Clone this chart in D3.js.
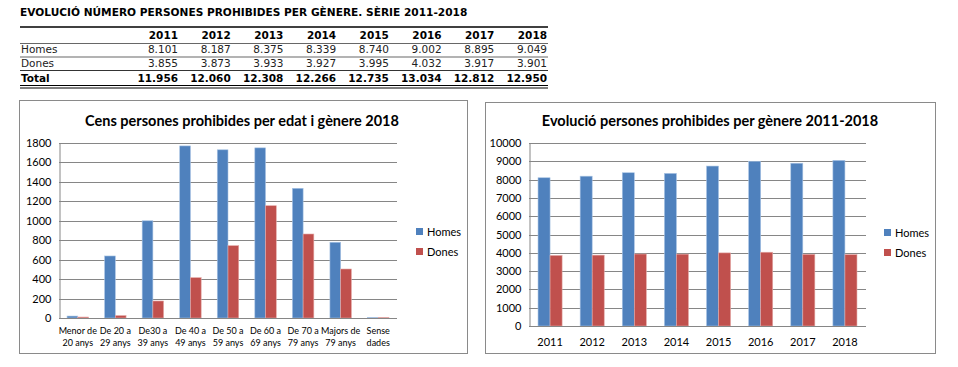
<!DOCTYPE html>
<html>
<head>
<meta charset="utf-8">
<script src="https://cdn.jsdelivr.net/npm/d3@7"></script>
<style>
  html, body { margin: 0; padding: 0; background: #fff; }
  svg { display: block; }
</style>
</head>
<body>
<svg id="chart" width="958" height="367"></svg>
<script>
// dades
var years = ['2011', '2012', '2013', '2014', '2015', '2016', '2017', '2018'];
var homesYear = [8101, 8187, 8375, 8339, 8740, 9002, 8895, 9049];
var donesYear = [3855, 3873, 3933, 3927, 3995, 4032, 3917, 3901];
var totalYear = [11956, 12060, 12308, 12266, 12735, 13034, 12812, 12950];

var ageGroups = ['Menor de 20 anys', 'De 20 a 29 anys', 'De30 a 39 anys', 'De 40 a 49 anys',
  'De 50 a 59 anys', 'De 60 a 69 anys', 'De 70 a 79 anys', 'Majors de 79 anys', 'Sense dades'];
var ageLines = [['Menor de', '20 anys'], ['De 20 a', '29 anys'], ['De30 a', '39 anys'], ['De 40 a', '49 anys'],
  ['De 50 a', '59 anys'], ['De 60 a', '69 anys'], ['De 70 a', '79 anys'], ['Majors de', '79 anys'], ['Sense', 'dades']];
var homesAge = [20, 638, 1000, 1770, 1730, 1750, 1334, 779, 5];
var donesAge = [10, 25, 175, 415, 744, 1155, 864, 504, 5];

var series = ['Homes', 'Dones'];
var colors = {Homes: '#4F81BD', Dones: '#C0504D'};
var yTicksAge = [0, 200, 400, 600, 800, 1000, 1200, 1400, 1600, 1800];
var yTicksYear = [0, 1000, 2000, 3000, 4000, 5000, 6000, 7000, 8000, 9000, 10000];

var svg = d3.select('#chart');
var tableFont = 'DejaVu Sans, Verdana, sans-serif';
var chartFont = 'Lato, Open Sans, sans-serif';

var fmt = d3.formatLocale({decimal: ',', thousands: '.', grouping: [3], currency: ['', '']}).format(',d');

// ---- taula ----
svg.append('text')
  .attr('x', 20).attr('y', 16)
  .attr('font-family', tableFont).attr('font-weight', 'bold').attr('font-size', 10.6)
  .text('EVOLUCIÓ NÚMERO PERSONES PROHIBIDES PER GÈNERE. SÈRIE 2011-2018');

var colX = d3.scalePoint().domain(years).range([178, 547]);
var tx0 = 20, tx1 = 548;

function hline(y, w) {
  svg.append('line').attr('x1', tx0).attr('x2', tx1).attr('y1', y).attr('y2', y)
    .attr('stroke', '#000').attr('stroke-width', w);
}
hline(27, 1.6);
hline(43.5, 0.6);
hline(57, 0.6);
hline(70.5, 0.8);
hline(85.5, 1);
hline(88, 1);

var rows = [
  {label: '', vals: years, bold: true, y: 39},
  {label: 'Homes', vals: homesYear.map(fmt), bold: false, y: 53},
  {label: 'Dones', vals: donesYear.map(fmt), bold: false, y: 67},
  {label: 'Total', vals: totalYear.map(fmt), bold: true, y: 81.5}
];
rows.forEach(function(r) {
  svg.append('text').attr('x', 21).attr('y', r.y)
    .attr('font-family', tableFont).attr('font-size', 10.5)
    .attr('font-weight', r.bold ? 'bold' : 'normal')
    .attr('fill', r.bold ? '#000' : '#222')
    .text(r.label);
  svg.selectAll(null).data(r.vals).enter().append('text')
    .attr('x', function(d, i) { return colX(years[i]); })
    .attr('y', r.y)
    .attr('text-anchor', 'end')
    .attr('font-family', tableFont).attr('font-size', 10.5)
    .attr('font-weight', r.bold ? 'bold' : 'normal')
    .attr('fill', r.bold ? '#000' : '#222')
    .text(function(d) { return d; });
});

// ---- grafic de barres ----
function barChart(o) {
  var g = svg.append('g');
  g.append('rect').attr('x', o.box[0] + 0.5).attr('y', o.box[1] + 0.5)
    .attr('width', o.box[2] - o.box[0]).attr('height', o.box[3] - o.box[1])
    .attr('fill', '#fff').attr('stroke', '#8a8a8a').attr('stroke-width', 1);

  g.append('text').attr('x', o.titleX).attr('y', o.titleY)
    .attr('text-anchor', 'middle')
    .attr('font-family', chartFont).attr('font-weight', 'bold').attr('font-size', 14.5)
    .attr('fill', '#000')
    .text(o.title);

  var x = d3.scaleBand().domain(o.cats).range([o.left, o.right]).padding(0);
  var step = x.step();
  var x1 = d3.scaleBand().domain(series)
    .range([step * 0.75 / 3.5, step * 2.75 / 3.5]).padding(0);
  var y = d3.scaleLinear().domain([0, o.max]).range([o.bottom, o.top]);

  // graella
  g.append('g').selectAll('line').data(o.ticks).enter().append('line')
    .attr('x1', o.left).attr('x2', o.right)
    .attr('y1', function(d) { return Math.round(y(d)) + 0.5; })
    .attr('y2', function(d) { return Math.round(y(d)) + 0.5; })
    .attr('stroke', '#868686').attr('stroke-width', 1);

  var yAxis = g.append('g')
    .attr('transform', 'translate(' + (o.left + 0.5) + ',0)')
    .call(d3.axisLeft(y).tickValues(o.ticks).tickSize(0).tickPadding(8).tickFormat(d3.format('d')));
  yAxis.select('.domain').attr('stroke', '#868686');
  yAxis.selectAll('text').attr('font-family', chartFont).attr('font-size', 11).attr('fill', '#000');

  var groups = g.append('g').selectAll('g').data(o.cats).enter().append('g')
    .attr('transform', function(d) { return 'translate(' + x(d) + ',0)'; });
  groups.selectAll('rect').data(function(d, i) {
      return series.map(function(s) { return {s: s, v: o.data[s][i]}; });
    }).enter().append('rect')
    .attr('x', function(d) { return x1(d.s); })
    .attr('width', x1.bandwidth())
    .attr('y', function(d) { return y(d.v); })
    .attr('height', function(d) { return o.bottom - y(d.v); })
    .attr('fill', function(d) { return colors[d.s]; })
    .attr('stroke', function(d) { return d.s === 'Homes' ? '#a9c4e4' : '#e4a9a7'; })
    .attr('stroke-width', 0.6);

  // eix x
  g.append('line').attr('x1', o.left).attr('x2', o.right)
    .attr('y1', o.bottom + 0.5).attr('y2', o.bottom + 0.5)
    .attr('stroke', '#868686');

  var lab = g.append('g').selectAll('text').data(o.cats).enter().append('text')
    .attr('x', function(d) { return x(d) + step / 2; })
    .attr('y', o.labelY)
    .attr('text-anchor', 'middle')
    .attr('font-family', chartFont).attr('font-size', o.labelSize).attr('fill', '#000');
  lab.each(function(d, i) {
    var lines = o.lines ? o.lines[i] : [d];
    var t = d3.select(this);
    lines.forEach(function(l, k) {
      t.append('tspan').attr('x', x(d) + step / 2).attr('dy', k === 0 ? 0 : 11.5).text(l);
    });
  });

  // llegenda
  series.forEach(function(s, k) {
    g.append('rect').attr('x', o.legX).attr('y', o.legY + k * 20 - 4)
      .attr('width', 7).attr('height', 7).attr('fill', colors[s]);
    g.append('text').attr('x', o.legX + 11).attr('y', o.legY + k * 20 + 4)
      .attr('font-family', chartFont).attr('font-size', 11).attr('fill', '#000')
      .text(s);
  });
}

barChart({
  box: [19, 100, 467, 353],
  title: 'Cens persones prohibides per edat i gènere 2018',
  titleX: 242, titleY: 126,
  cats: ageGroups, lines: ageLines,
  data: {Homes: homesAge, Dones: donesAge},
  max: 1800, ticks: yTicksAge,
  left: 59, right: 397, top: 143, bottom: 318,
  labelY: 334, labelSize: 9,
  legX: 416, legY: 232
});

barChart({
  box: [485, 102, 935, 353],
  title: 'Evolució persones prohibides per gènere 2011-2018',
  titleX: 710, titleY: 126,
  cats: years,
  data: {Homes: homesYear, Dones: donesYear},
  max: 10000, ticks: yTicksYear,
  left: 529, right: 866, top: 143, bottom: 326,
  labelY: 346, labelSize: 11,
  legX: 884, legY: 233
});
</script>
</body>
</html>
